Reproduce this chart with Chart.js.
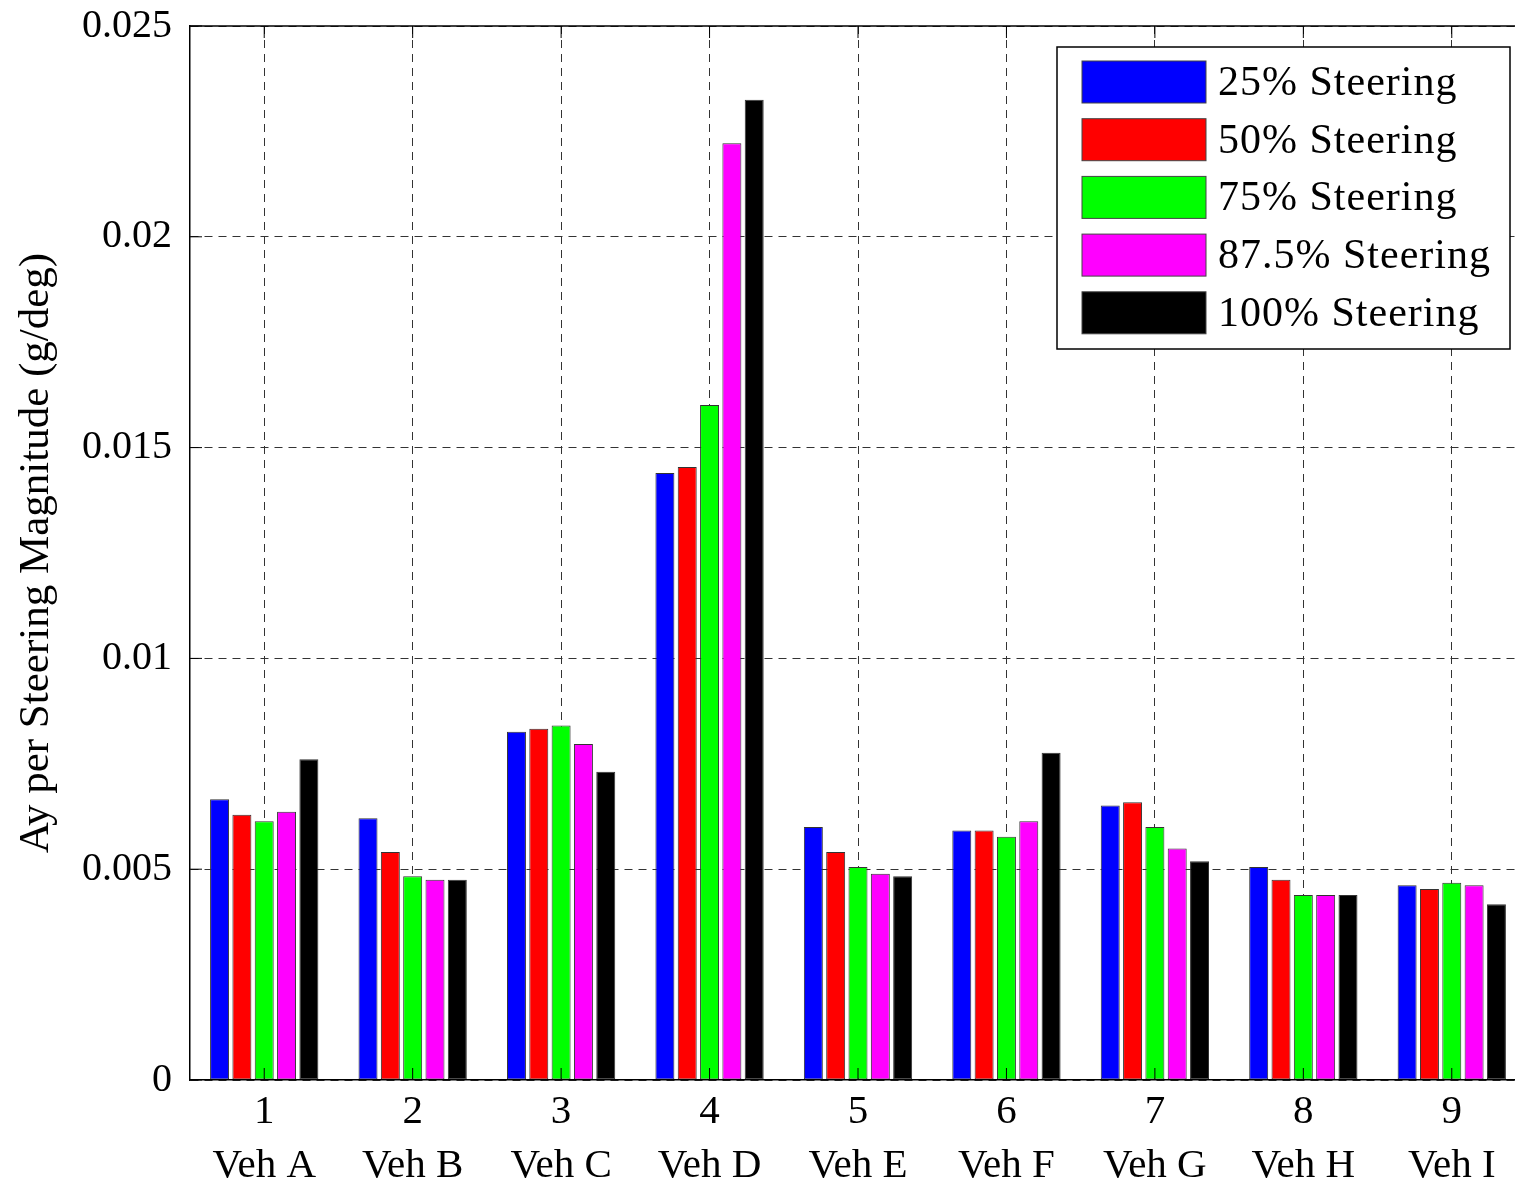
<!DOCTYPE html>
<html>
<head>
<meta charset="utf-8">
<script src="https://cdn.jsdelivr.net/npm/chart.js@4.4.1/dist/chart.umd.min.js"></script>
<style>
  html, body { margin: 0; padding: 0; background: #fff; overflow: hidden; }
  #wrap { width: 1530px; height: 1188px; }
</style>
</head>
<body>
<div id="wrap"><canvas id="myChart" width="1530" height="1188"></canvas></div>
<script>
// categories
const vehicleNumbers = ['1', '2', '3', '4', '5', '6', '7', '8', '9'];
const vehicleNames = ['Veh A', 'Veh B', 'Veh C', 'Veh D', 'Veh E', 'Veh F', 'Veh G', 'Veh H', 'Veh I'];

// series (g/deg)
const steer25  = [0.00666, 0.00621, 0.00826, 0.01440, 0.00600, 0.00592, 0.00651, 0.00505, 0.00462];
const steer50  = [0.00629, 0.00541, 0.00833, 0.01454, 0.00541, 0.00592, 0.00659, 0.00475, 0.00453];
const steer75  = [0.00614, 0.00483, 0.00841, 0.01601, 0.00505, 0.00577, 0.00600, 0.00439, 0.00468];
const steer875 = [0.00636, 0.00475, 0.00797, 0.02222, 0.00489, 0.00614, 0.00549, 0.00439, 0.00462];
const steer100 = [0.00761, 0.00475, 0.00731, 0.02325, 0.00483, 0.00776, 0.00519, 0.00439, 0.00417];

const seriesLabels = ['25% Steering', '50% Steering', '75% Steering', '87.5% Steering', '100% Steering'];
const seriesColors = ['#0000ff', '#ff0000', '#00ff00', '#ff00ff', '#000000'];

// y tick labels
const yTickValues = [0, 0.005, 0.01, 0.015, 0.02, 0.025];
const yTickLabels = ['0', '0.005', '0.01', '0.015', '0.02', '0.025'];

const FONT = "'Liberation Serif', 'Times New Roman', serif";

const seriesData = [steer25, steer50, steer75, steer875, steer100];

// legende dessinee dans la zone du graphique, en haut a droite
const boxLegend = {
    id: 'boxLegend',
    afterDraw(chart) {
        const ctx = chart.ctx;
        const x0 = 1057, y0 = 47, w = 453, h = 302;
        ctx.save();
        ctx.fillStyle = '#fff';
        ctx.fillRect(x0, y0, w, h);
        ctx.strokeStyle = '#000';
        ctx.lineWidth = 1.5;
        ctx.strokeRect(x0, y0, w, h);
        ctx.font = '42px ' + FONT;
        ctx.letterSpacing = '1px';
        ctx.textBaseline = 'middle';
        ctx.textAlign = 'left';
        chart.data.datasets.forEach(function (ds, i) {
            const sy = 61 + i * 57.7;
            ctx.fillStyle = ds.backgroundColor;
            ctx.fillRect(1082, sy, 124, 42);
            ctx.strokeStyle = '#444';
            ctx.lineWidth = 1;
            ctx.strokeRect(1082, sy, 124, 42);
            ctx.fillStyle = '#000';
            ctx.fillText(ds.label, 1218, sy + 23);
        });
        ctx.restore();
    }
};

// cadre du haut et petites graduations interieures (style MATLAB)
const frameTicks = {
    id: 'frameTicks',
    afterDatasetsDraw(chart) {
        const ctx = chart.ctx;
        const a = chart.chartArea;
        const xs = chart.scales.x, ys = chart.scales.y;
        ctx.save();
        ctx.strokeStyle = '#000';
        ctx.lineWidth = 1.5;
        ctx.beginPath();
        ctx.moveTo(a.left, a.top);
        ctx.lineTo(a.right, a.top);
        ctx.stroke();
        ctx.lineWidth = 1;
        ctx.beginPath();
        for (let i = 0; i < xs.ticks.length; i++) {
            const px = xs.getPixelForTick(i);
            ctx.moveTo(px, a.top);
            ctx.lineTo(px, a.top + 12);
            ctx.moveTo(px, a.bottom);
            ctx.lineTo(px, a.bottom - 12);
        }
        yTickValues.forEach(function (v) {
            const py = ys.getPixelForValue(v);
            ctx.moveTo(a.left, py);
            ctx.lineTo(a.left + 12, py);
        });
        ctx.stroke();
        ctx.restore();
    }
};

const ctx = document.getElementById('myChart').getContext('2d');
const myChart = new Chart(ctx, {
    type: 'bar',
    data: {
        labels: vehicleNumbers.map(function (n, i) { return [n, vehicleNames[i]]; }),
        datasets: seriesLabels.map(function (lab, i) {
            return {
                label: lab,
                data: seriesData[i],
                backgroundColor: seriesColors[i],
                borderColor: '#333',
                borderWidth: 1,
                borderSkipped: false,
                categoryPercentage: 0.752,
                barPercentage: 0.85
            };
        })
    },
    options: {
        responsive: false,
        animation: false,
        layout: { padding: { left: 0, right: 4, top: 26, bottom: 0 } },
        plugins: {
            legend: { display: false },
            tooltip: { enabled: false },
            title: { display: false }
        },
        scales: {
            x: {
                offset: true,
                grid: {
                    offset: false,
                    color: '#333',
                    lineWidth: 1,
                    drawTicks: false
                },
                border: { display: true, color: '#000', width: 1.5, dash: [8, 6], z: 1 },
                ticks: {
                    color: '#000',
                    padding: 6,
                    maxRotation: 0,
                    autoSkip: false,
                    font: { family: FONT, size: 41, lineHeight: 1.3 }
                },
                afterFit: function (scale) {
                    scale.height = 108;
                    scale.paddingLeft = 0;
                    scale.paddingRight = 0;
                }
            },
            y: {
                min: 0,
                max: 0.025,
                afterBuildTicks: function (scale) {
                    scale.ticks = yTickValues.map(function (v) { return { value: v }; });
                },
                grid: {
                    color: '#333',
                    lineWidth: 1,
                    drawTicks: false
                },
                border: { display: true, color: '#000', width: 1.5, dash: [8, 6] },
                ticks: {
                    color: '#000',
                    padding: 18,
                    font: { family: FONT, size: 40 },
                    callback: function (value) {
                        const k = yTickValues.indexOf(value);
                        return k >= 0 ? yTickLabels[k] : '';
                    }
                },
                title: {
                    display: true,
                    text: 'Ay per Steering Magnitude (g/deg)',
                    color: '#000',
                    padding: { top: 11, bottom: 0 },
                    font: { family: FONT, size: 43 }
                },
                afterFit: function (scale) {
                    scale.width = 190;
                    scale.paddingTop = 0;
                    scale.paddingBottom = 0;
                }
            }
        }
    },
    plugins: [boxLegend, frameTicks]
});
</script>
</body>
</html>
